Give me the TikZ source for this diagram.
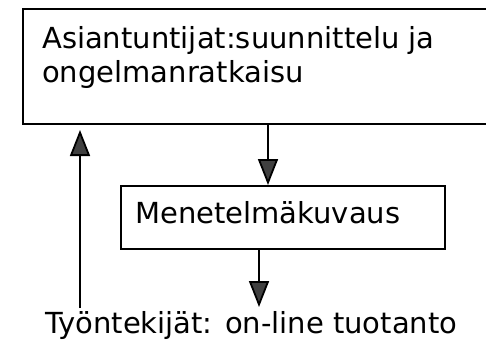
\documentclass[tikz,border=0pt]{standalone}
\usepackage{fontspec}
\setmainfont{DejaVu Sans}
\usetikzlibrary{arrows.meta}
\tikzset{
  boxline/.style={draw=black, line width=1.8pt},
  arr/.style={line width=1.8pt, -{Triangle[width=20pt,length=26pt,fill=black!75]}},
  lbl/.style={inner sep=0pt, anchor=base west, font=\fontsize{29}{34}\selectfont}
}
\begin{document}
\begin{tikzpicture}[x=1pt,y=-1pt]
\useasboundingbox (0,0) rectangle (486,348);
\fill[white] (0,0) rectangle (486,348);
% boxes
\draw[boxline] (23,9) rectangle (490,124);
\node[lbl, align=left] (t1) at (42,48) {Asiantuntijat:suunnittelu ja};
\node[lbl] (t2) at (42,82) {ongelmanratkaisu};
\node[boxline, anchor=north west, minimum width=324pt, minimum height=63pt, inner sep=0pt] (mid) at (120,185) {};
\node[lbl] (t3) at (135,223) {Menetelmäkuvaus};
\node[lbl] (t4) at (45,333) {Työntekijät: on-line tuotanto};
% connectors
\coordinate (a1) at (80,308);
\coordinate (a2) at (80,130);
\coordinate (b1) at (268,124);
\coordinate (b2) at (268,185);
\coordinate (c1) at (259,248);
\coordinate (c2) at (259,307);
\draw[arr] (a1) -- (a2);
\draw[arr] (b1) -- (b2);
\draw[arr] (c1) -- (c2);
\end{tikzpicture}
\end{document}
